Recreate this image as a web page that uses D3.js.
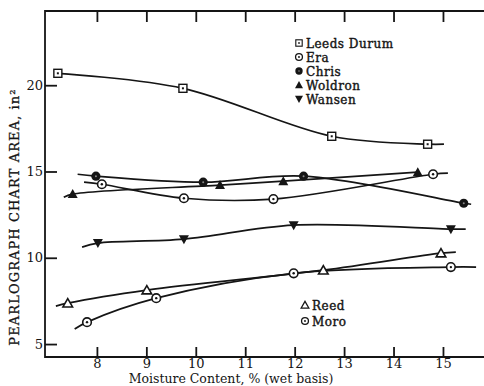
<!DOCTYPE html>
<html>
<head>
<meta charset="utf-8">
<script src="https://cdn.jsdelivr.net/npm/d3@7"></script>
<style>
  body { margin: 0; background: #fff; }
  svg { display: block; }
</style>
</head>
<body>
<svg id="chart" width="484" height="386"></svg>
<script>
// moisture content (%) / chart area (in^2)
const leedsX = [7.21, 9.74, 12.75, 14.69];
const leedsY = [20.69, 19.82, 17.04, 16.58];
const leedsEnd = [15.02, 16.58];

const chrisX = [7.98, 10.15, 12.18, 15.42];
const chrisY = [14.73, 14.38, 14.73, 13.16];
const chrisStart = [7.61, 14.84];
const chrisEnd = [15.57, 13.1];

const eraX = [8.1, 9.76, 11.57, 14.8];
const eraY = [14.26, 13.45, 13.4, 14.84];
const eraStart = [7.74, 14.38];
const eraEnd = [15.1, 14.9];

const woldronX = [7.51, 10.49, 11.77, 14.49];
const woldronY = [13.69, 14.21, 14.44, 14.96];
const woldronStart = [7.33, 13.51];

const wansenX = [8.02, 9.76, 11.98, 15.16];
const wansenY = [10.85, 11.08, 11.89, 11.66];
const wansenStart = [7.7, 10.62];
const wansenEnd = [15.46, 11.66];

const reedX = [7.41, 9.01, 12.58, 14.96];
const reedY = [7.37, 8.13, 9.28, 10.27];
const reedStart = [7.17, 7.2];
const reedEnd = [15.26, 10.33];

const moroX = [7.8, 9.2, 11.98, 15.16];
const moroY = [6.27, 7.66, 9.1, 9.46];
const moroStart = [7.55, 5.87];
const moroEnd = [15.67, 9.46];

const xTicks = [8, 9, 10, 11, 12, 13, 14, 15];
const yTicks = [5, 10, 15, 20];

const legendTop = ['Leeds Durum', 'Era', 'Chris', 'Woldron', 'Wansen'];
const legendBottom = ['Reed', 'Moro'];

const ink = '#151515';
const font = "'DejaVu Serif', serif";

const svg = d3.select('#chart');
const x = d3.scaleLinear().domain([6.95, 15.83]).range([45, 484]);
const y = d3.scaleLinear().domain([4.25, 24.3]).range([357, 11]);

const pts = (xs, ys) => xs.map((v, i) => [v, ys[i]]);

const series = [
  { name: 'Leeds Durum', sym: 'square', p: pts(leedsX, leedsY), start: null, end: leedsEnd },
  { name: 'Era', sym: 'circle', p: pts(eraX, eraY), start: eraStart, end: eraEnd },
  { name: 'Chris', sym: 'dot', p: pts(chrisX, chrisY), start: chrisStart, end: chrisEnd },
  { name: 'Woldron', sym: 'tri', p: pts(woldronX, woldronY), start: woldronStart, end: null },
  { name: 'Wansen', sym: 'down', p: pts(wansenX, wansenY), start: wansenStart, end: wansenEnd },
  { name: 'Reed', sym: 'opentri', p: pts(reedX, reedY), start: reedStart, end: reedEnd },
  { name: 'Moro', sym: 'circle', p: pts(moroX, moroY), start: moroStart, end: moroEnd }
];

// frame
svg.append('path')
  .attr('d', `M${x.range()[1]},${y(24.3)}H45V357H484`)
  .attr('fill', 'none').attr('stroke', ink).attr('stroke-width', 1.8);

// axes
const gx = svg.append('g').attr('transform', 'translate(0,357)')
  .call(d3.axisBottom(x).tickValues(xTicks).tickFormat(d3.format('d')).tickSizeInner(-10).tickSizeOuter(0).tickPadding(2));
const gt = svg.append('g').attr('transform', 'translate(0,11)')
  .call(d3.axisTop(x).tickValues(xTicks).tickFormat('').tickSizeInner(-11).tickSizeOuter(0));
const gy = svg.append('g').attr('transform', 'translate(45,0)')
  .call(d3.axisLeft(y).tickValues(yTicks).tickSizeInner(-12).tickSizeOuter(0).tickPadding(2));

[gx, gt, gy].forEach(g => {
  g.select('.domain').remove();
  g.selectAll('line').attr('stroke', ink).attr('stroke-width', 1.8);
  g.selectAll('text').attr('fill', ink).style('font-family', font).style('font-size', '13px');
});

// curves
const line = d3.line().x(d => x(d[0])).y(d => y(d[1])).curve(d3.curveCatmullRom.alpha(0.5));
series.forEach(s => {
  const c = [].concat(s.start ? [s.start] : [], s.p, s.end ? [s.end] : []);
  svg.append('path').datum(c)
    .attr('d', line)
    .attr('fill', 'none').attr('stroke', ink).attr('stroke-width', 1.7);
});

// markers
function marker(g, sym) {
  if (sym === 'square') {
    g.append('rect').attr('x', -4).attr('y', -4).attr('width', 8).attr('height', 8)
      .attr('fill', '#fff').attr('stroke', ink).attr('stroke-width', 1.4);
    g.append('rect').attr('x', -1).attr('y', -1).attr('width', 2).attr('height', 2).attr('fill', ink);
  } else if (sym === 'circle') {
    g.append('circle').attr('r', 4.3).attr('fill', '#fff').attr('stroke', ink).attr('stroke-width', 1.6);
    g.append('circle').attr('r', 1.2).attr('fill', ink);
  } else if (sym === 'dot') {
    g.append('circle').attr('r', 4.6).attr('fill', ink);
    g.append('circle').attr('r', 1).attr('fill', '#888');
  } else if (sym === 'tri') {
    g.append('path').attr('d', 'M0,-5L5,4H-5Z').attr('fill', ink);
  } else if (sym === 'down') {
    g.append('path').attr('d', 'M-5,-4H5L0,5Z').attr('fill', ink);
  } else if (sym === 'opentri') {
    g.append('path').attr('d', 'M0,-4.5L4.8,3.8H-4.8Z').attr('fill', '#fff').attr('stroke', ink).attr('stroke-width', 1.6);
  }
}

series.forEach(s => {
  svg.append('g').selectAll('g').data(s.p).join('g')
    .attr('transform', d => `translate(${x(d[0])},${y(d[1])})`)
    .each(function () { marker(d3.select(this), s.sym); });
});

// legends
function legend(names, lx, ly, step) {
  names.forEach((n, i) => {
    const s = series.find(t => t.name === n);
    const g = svg.append('g').attr('transform', `translate(${lx},${ly + i * step})`);
    const m = g.append('g').attr('transform', 'scale(0.8)');
    marker(m, s.sym);
    g.append('text').attr('x', 7).attr('y', 4.5)
      .attr('fill', ink).attr('stroke', ink).attr('stroke-width', 0.4)
      .style('font-family', font).style('font-size', '12px').style('letter-spacing', '0.5px')
      .text(n);
  });
}
legend(legendTop, 299, 43, 14);
legend(legendBottom, 305, 305, 16);

// axis titles
svg.append('text')
  .attr('x', 231).attr('y', 383).attr('text-anchor', 'middle')
  .attr('fill', ink).style('font-family', font).style('font-size', '12.5px')
  .text('Moisture Content, % (wet basis)');

svg.append('text')
  .attr('transform', 'translate(19,217) rotate(-90)')
  .attr('text-anchor', 'middle')
  .attr('fill', ink).attr('stroke', ink).attr('stroke-width', 0.3)
  .style('font-family', font).style('font-size', '13px').style('letter-spacing', '1.1px')
  .text('PEARLOGRAPH CHART AREA, in²');
</script>
</body>
</html>
